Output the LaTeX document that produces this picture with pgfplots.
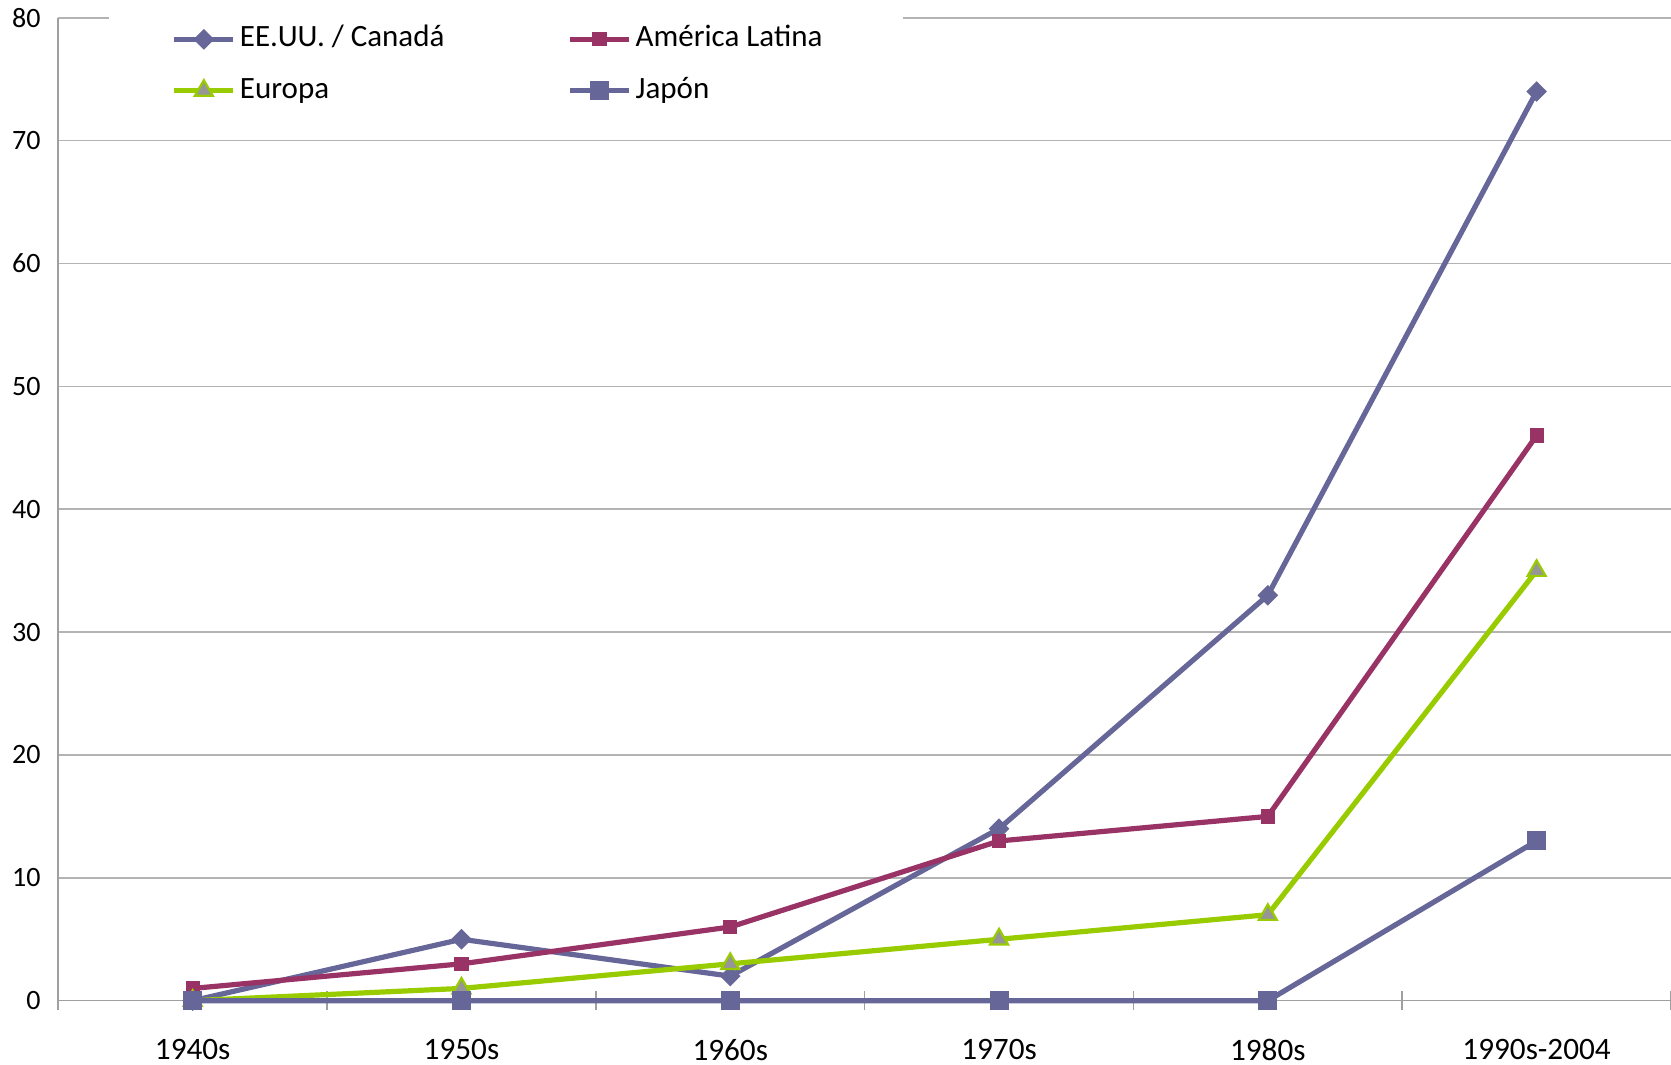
\documentclass[border=0pt]{standalone}
\usepackage{pgfplots}
\pgfplotsset{compat=1.18}
\usepackage{fontspec}
\setmainfont{Carlito}
\definecolor{cUS}{HTML}{666699}
\definecolor{cLA}{HTML}{993366}
\definecolor{cEU}{HTML}{99CC00}
\definecolor{cEUfill}{HTML}{969696}
\definecolor{cJP}{HTML}{666699}
\definecolor{gridc}{HTML}{B3B3B3}
\definecolor{axisc}{HTML}{A0A0A0}
\begin{document}
\begin{tikzpicture}
\path[use as bounding box] (-29.15pt,-32.15pt) rectangle (806.35pt,500.35pt);
\begin{axis}[
  scale only axis,
  width=806.35pt, height=491.45pt,
  xmin=-0.5, xmax=5.5, ymin=0, ymax=80,
  clip=false,
  axis x line*=bottom, axis y line*=left,
  axis line style={draw=axisc, line width=0.8pt, -},
  every outer x axis line/.append style={-},
  every outer y axis line/.append style={-},
  xtick={0,...,5},
  xticklabels={1940s,1950s,1960s,1970s,1980s,1990s-2004},
  minor xtick={-0.5,0.5,...,5.5},
  ytick={0,10,...,80},
  major tick length=0pt,
  minor tick length=9.5pt,
  tick align=center,
  minor x tick style={draw=axisc, line width=0.8pt},
  ymajorgrids,
  major grid style={draw=gridc, line width=0.8pt},
  /pgf/number format/assume math mode=true,
  xticklabel style={font=\fontsize{15.6}{18}\selectfont, yshift=-15.6pt},
  yticklabel style={font=\fontsize{14}{17}\selectfont, xshift=-5.3pt},
  legend columns=2,
  legend cell align=left,
  legend style={at={(axis description cs:0.0701,0.9520)}, anchor=west,
    draw=none, fill=none, inner sep=0pt, row sep=7.1pt,
    font=\fontsize{15.5}{18}\selectfont,
    nodes={text height=11pt, text depth=3.5pt, inner sep=2pt},
    /tikz/every even column/.append style={column sep=59.5pt}},
  legend image code/.code={\draw[mark repeat=2,mark phase=2,#1] plot coordinates {(0pt,0pt) (14.75pt,0pt) (29.5pt,0pt)};},
]
\fill[white] (axis cs:-0.311,77) rectangle (axis cs:2.643,83);
\addplot[color=cUS, line width=2.6pt, mark=square*, mark size=3.4pt, mark options={rotate=45, fill=cUS, draw=cUS, line width=0.5pt}]
  coordinates {(0,0) (1,5) (2,2) (3,14) (4,33) (5,74)};
\addlegendentry{EE.UU. / Canadá}
\addplot[color=cLA, line width=2.6pt, mark=square*, mark size=3.3pt, mark options={fill=cLA, draw=cLA, line width=0.5pt}]
  coordinates {(0,1) (1,3) (2,6) (3,13) (4,15) (5,46)};
\addlegendentry{América Latina}
\addplot[color=cEU, line width=2.6pt, mark=triangle*, mark size=5.2pt, mark options={fill=cEUfill, draw=cEU, line width=1.1pt}]
  coordinates {(0,0) (1,1) (2,3) (3,5) (4,7) (5,35)};
\addlegendentry{Europa}
\addplot[color=cJP, line width=2.6pt, mark=square*, mark size=4.5pt, mark options={fill=cJP, draw=cJP, line width=0.5pt}]
  coordinates {(0,0) (1,0) (2,0) (3,0) (4,0) (5,13)};
\addlegendentry{Japón}
\end{axis}
\end{tikzpicture}
\end{document}
